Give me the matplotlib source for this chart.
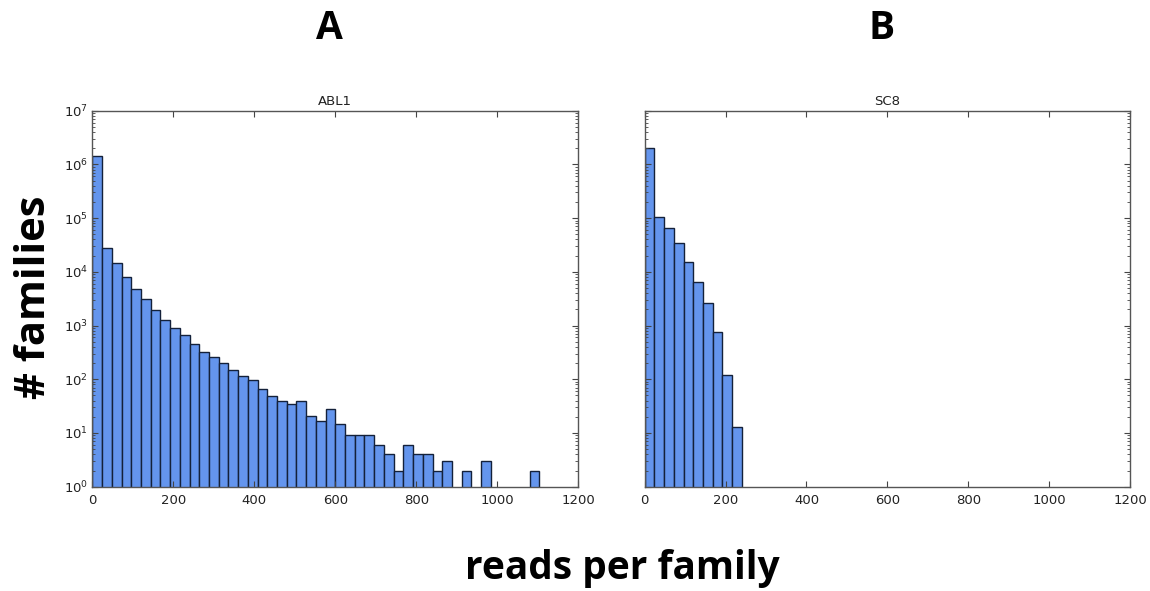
import numpy as np
import matplotlib
matplotlib.use("Agg")
import matplotlib.pyplot as plt
from matplotlib.ticker import LogLocator, MultipleLocator

# Histogram bins: 50 bins of width 24 over 0..1200 reads
bin_edges = np.linspace(0, 1200, 51)

# Family counts per bin (ABL1 and SC8 libraries)
abl1_counts = [1450000, 28200, 14400, 8130, 4730, 3080, 1950, 1270, 913, 662,
               448, 326, 263, 204, 149, 117, 97, 66, 49, 40,
               35, 40, 21, 17, 28, 15, 9, 9, 9, 6,
               4, 2, 6, 4, 4, 2, 3, 0, 2, 0,
               3, 0, 0, 0, 0, 2, 0, 0, 0, 0]
sc8_counts = [2000000, 106000, 64700, 34900, 15500, 6560, 2600, 769, 120, 13] + [0] * 40

panels = [("ABL1", abl1_counts), ("SC8", sc8_counts)]
panel_letters = ["A", "B"]

fig = plt.figure(figsize=(11.5, 5.91), dpi=100)
fig.patch.set_facecolor("white")

axes_rects = [[0.0803, 0.1765, 0.4226, 0.6362],
              [0.5606, 0.1765, 0.4220, 0.6362]]

for i, (name, counts) in enumerate(panels):
    ax = fig.add_axes(axes_rects[i])
    ax.hist(bin_edges[:-1], bins=bin_edges, weights=counts, log=True,
            color="#6495ED", edgecolor="#14213a", linewidth=1.0)
    ax.set_yscale("log")
    ax.set_xlim(0, 1200)
    ax.set_ylim(1, 1e7)
    ax.set_title(name, fontsize=9.5, pad=4, color="#222222")
    ax.xaxis.set_major_locator(MultipleLocator(200))
    ax.yaxis.set_major_locator(LogLocator(base=10, numticks=10))
    ax.yaxis.set_minor_locator(LogLocator(base=10, subs=np.arange(2, 10), numticks=10))
    ax.tick_params(which="both", direction="in", top=True, right=True,
                   labelsize=9.5, colors="#444444", labelcolor="#222222")
    ax.tick_params(which="major", length=4)
    ax.tick_params(which="minor", length=2)
    ax.tick_params(axis="x", pad=5)
    ax.tick_params(axis="y", pad=3)
    for sp in ax.spines.values():
        sp.set_color("#555555")
        sp.set_linewidth(1.0)
    if i == 1:
        ax.tick_params(labelleft=False)

    # panel letter above each plot
    fig.text(axes_rects[i][0] + axes_rects[i][2] / 2 - 0.005, 0.952, panel_letters[i],
             fontsize=28, fontweight="bold", family="Open Sans",
             ha="center", va="center")

fig.text(0.030, 0.497, "# families", rotation=90, fontsize=30, fontweight="bold",
         family="Open Sans", ha="center", va="center")
fig.text(0.541, 0.038, "reads per family", fontsize=28, fontweight="bold",
         family="Open Sans", ha="center", va="center")

fig.savefig("out.png", dpi=100, facecolor="white")
